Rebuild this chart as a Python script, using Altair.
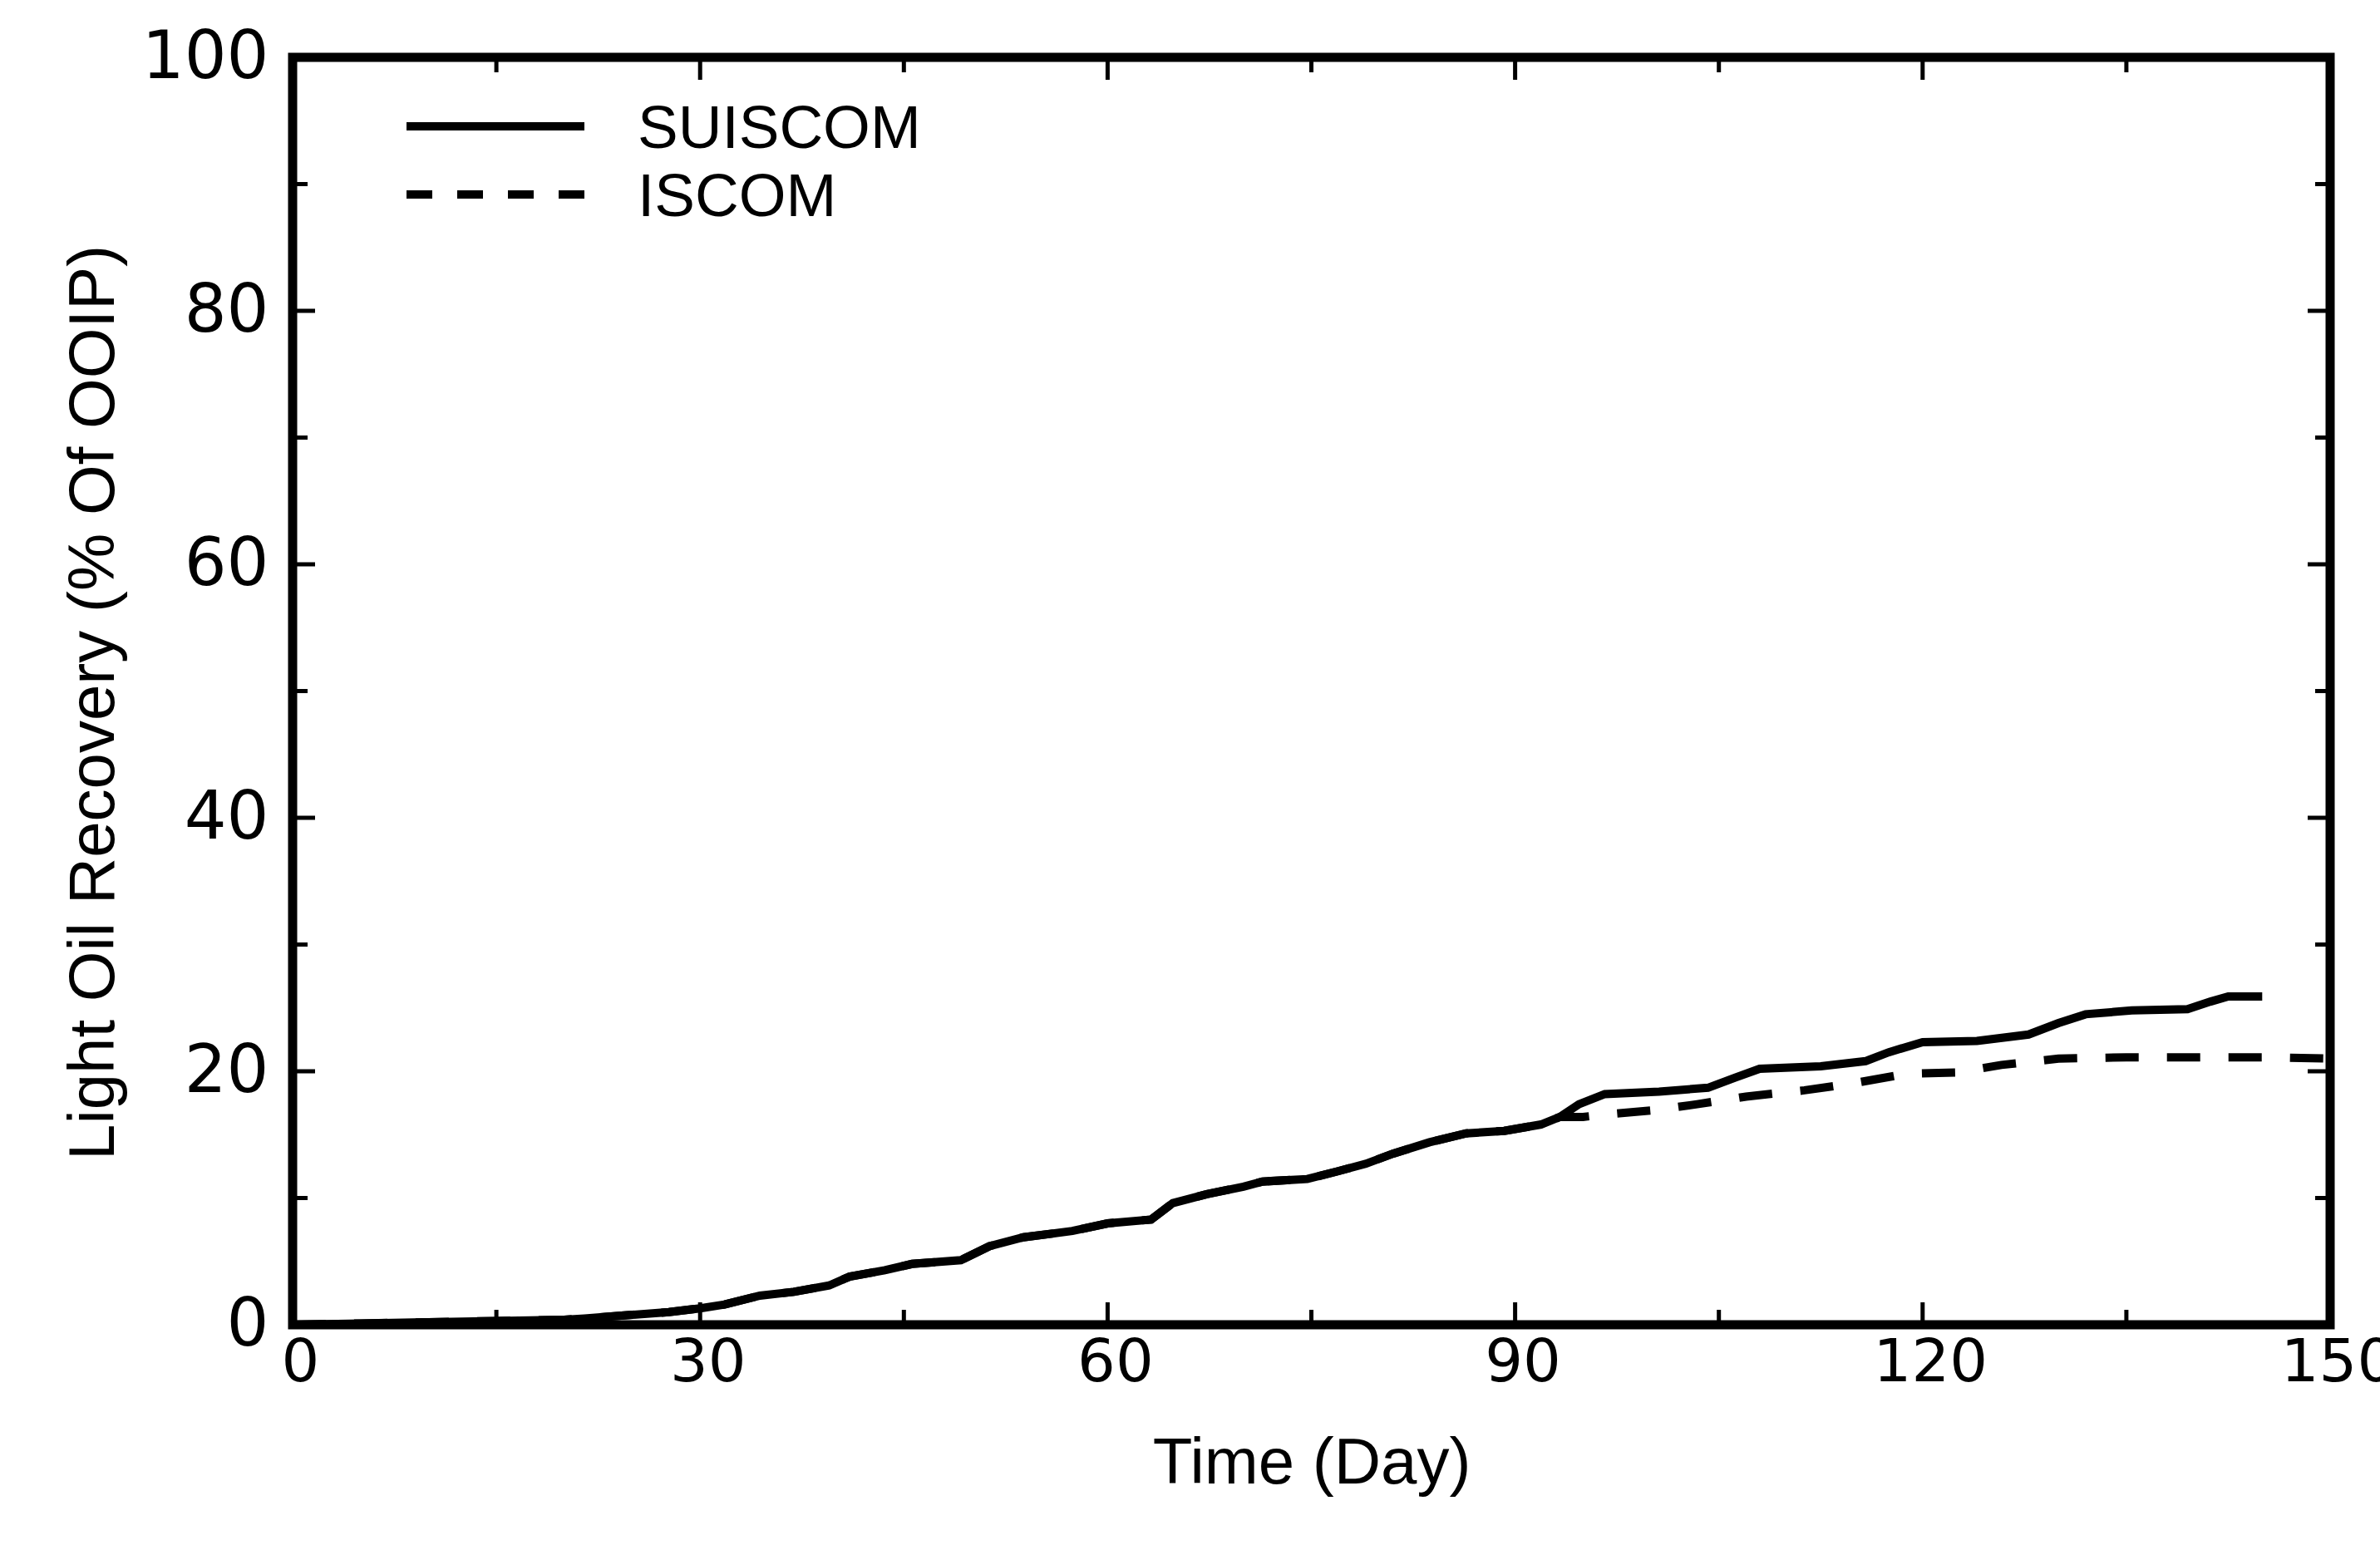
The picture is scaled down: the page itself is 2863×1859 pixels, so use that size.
import altair as alt
import pandas as pd

# ---------------- data ----------------
suiscom_day = [0, 5, 10, 15, 20, 21.5, 24.6, 27.7, 30, 31.8, 34.4, 36.9, 39.5, 41, 43.6,
               45.6, 49.2, 51.3, 53.8, 57.4, 60, 63.2, 64.8, 67.3, 70, 71.4, 74.7, 76.9,
               79, 81, 83.7, 86.4, 89.2, 91.9, 93.3, 94.7, 96.6, 100.6, 104.2, 106.2, 108,
               112.5, 115.8, 117.5, 120, 124, 127.8, 130, 132, 135.4, 139.5, 141.2, 142.5, 145]
suiscom_rec = [0, 0.1, 0.2, 0.3, 0.4, 0.5, 0.75, 1.0, 1.3, 1.6, 2.3, 2.6, 3.1, 3.8, 4.3,
               4.8, 5.1, 6.2, 6.9, 7.4, 8.0, 8.3, 9.6, 10.3, 10.9, 11.3, 11.5, 12.1,
               12.7, 13.5, 14.4, 15.1, 15.3, 15.8, 16.4, 17.4, 18.2, 18.4, 18.7, 19.5, 20.2,
               20.4, 20.8, 21.5, 22.3, 22.4, 22.9, 23.8, 24.5, 24.8, 24.9, 25.5, 25.9, 25.9]

iscom_day = [0, 5, 10, 15, 20, 21.5, 24.6, 27.7, 30, 31.8, 34.4, 36.9, 39.5, 41, 43.6,
             45.6, 49.2, 51.3, 53.8, 57.4, 60, 63.2, 64.8, 67.3, 70, 71.4, 74.7, 76.9,
             79, 81, 83.7, 86.4, 89.2, 91.9, 93.3, 95, 96.8, 100, 103.4, 107, 111.3,
             114.6, 118.8, 122.5, 125.8, 130, 135, 140, 145, 150]
iscom_rec = [0, 0.1, 0.2, 0.3, 0.4, 0.5, 0.75, 1.0, 1.3, 1.6, 2.3, 2.6, 3.1, 3.8, 4.3,
             4.8, 5.1, 6.2, 6.9, 7.4, 8.0, 8.3, 9.6, 10.3, 10.9, 11.3, 11.5, 12.1,
             12.7, 13.5, 14.4, 15.1, 15.3, 15.8, 16.4, 16.4, 16.6, 16.9, 17.4, 18.0, 18.5,
             19.0, 19.8, 19.9, 20.5, 21.0, 21.1, 21.1, 21.1, 21.0]

series_names = ["SUISCOM", "ISCOM"]

x_labels = [0, 30, 60, 90, 120, 150]
y_labels = [0, 20, 40, 60, 80, 100]
x_major_inner = [30, 60, 90, 120]
x_minor = [15, 45, 75, 105, 135]
y_major_inner = [20, 40, 60, 80]
y_minor = [10, 30, 50, 70, 90]

# ---------------- layout / style ----------------
W, H = 2451, 1525
MAJOR, MINOR = 27, 18
TICK_W = 5
LINE_W = 10

xscale = alt.Scale(domain=[0, 150], nice=False, zero=False)
yscale = alt.Scale(domain=[0, 100], nice=False, zero=False)

x_axis = alt.Axis(values=x_labels, grid=False, ticks=False, domain=False,
                  labelFont="DejaVu Sans", labelFontSize=72, labelPadding=10,
                  labelOffset=9,
                  labelColor="black", labelFlush=False, labelOverlap=False,
                  titleFont="Liberation Sans", titleFontSize=78, titleFontWeight="normal",
                  titleColor="black", titleBaseline="alphabetic", titleY=190)
y_axis = alt.Axis(values=y_labels, grid=False, ticks=False, domain=False,
                  labelFont="DejaVu Sans", labelFontSize=80, labelPadding=29,
                  labelColor="black", labelFlush=False, labelOverlap=False,
                  titleFont="Liberation Sans", titleFontSize=78, titleFontWeight="normal",
                  titleColor="black", titleAngle=270, titleBaseline="alphabetic",
                  titleAlign="center", titleX=-216, titleY=776)


def xe():
    return alt.X("day:Q", scale=xscale, title="Time (Day)", axis=x_axis)


def ye():
    return alt.Y("rec:Q", scale=yscale, title="Light Oil Recovery (% Of OOIP)", axis=y_axis)


df_s = pd.DataFrame({"day": suiscom_day, "rec": suiscom_rec})
df_i = pd.DataFrame({"day": iscom_day, "rec": iscom_rec})

iscom = alt.Chart(df_i).mark_line(stroke="black", strokeWidth=LINE_W,
                                  strokeDash=[40, 34], strokeCap="butt").encode(x=xe(), y=ye())
suiscom = alt.Chart(df_s).mark_line(stroke="black", strokeWidth=LINE_W).encode(x=xe(), y=ye())

layers = [iscom, suiscom]


# inward ticks on all four sides
def xticks(vals, length):
    d = pd.DataFrame({"day": vals})
    bottom = alt.Chart(d).mark_rule(stroke="black", strokeWidth=TICK_W).encode(
        x=xe(), y=alt.value(H), y2=alt.value(H - length))
    top = alt.Chart(d).mark_rule(stroke="black", strokeWidth=TICK_W).encode(
        x=xe(), y=alt.value(0), y2=alt.value(length))
    return [bottom, top]


def yticks(vals, length):
    d = pd.DataFrame({"rec": vals})
    left = alt.Chart(d).mark_rule(stroke="black", strokeWidth=TICK_W).encode(
        y=ye(), x=alt.value(0), x2=alt.value(length))
    right = alt.Chart(d).mark_rule(stroke="black", strokeWidth=TICK_W).encode(
        y=ye(), x=alt.value(W), x2=alt.value(W - length))
    return [left, right]


layers += xticks(x_major_inner, MAJOR) + xticks(x_minor, MINOR)
layers += yticks(y_major_inner, MAJOR) + yticks(y_minor, MINOR)

# legend (top-left, inside the frame)
leg_x0, leg_x1, leg_tx = 137, 351, 415
leg_rows = [83, 165]
leg_dash = [[1, 0], [31, 30]]
for name, ry, dash in zip(series_names, leg_rows, leg_dash):
    d = pd.DataFrame({"model": [name]})
    layers.append(alt.Chart(d).mark_rule(stroke="black", strokeWidth=LINE_W,
                                         strokeDash=dash, strokeCap="butt").encode(
        x=alt.value(leg_x0), x2=alt.value(leg_x1), y=alt.value(ry)))
    layers.append(alt.Chart(d).mark_text(font="Liberation Sans", fontSize=73, align="left",
                                         baseline="alphabetic", color="black").encode(
        x=alt.value(leg_tx), y=alt.value(ry + 26), text="model:N"))

chart = alt.layer(*layers).properties(
    width=W, height=H,
    autosize=alt.AutoSizeParams(type="none"),
    padding={"left": 352, "top": 69, "right": 60, "bottom": 265},
    background="white",
).configure_view(stroke="black", strokeWidth=11)

chart.save("out.html", embed_options={"renderer": "svg", "actions": False})
